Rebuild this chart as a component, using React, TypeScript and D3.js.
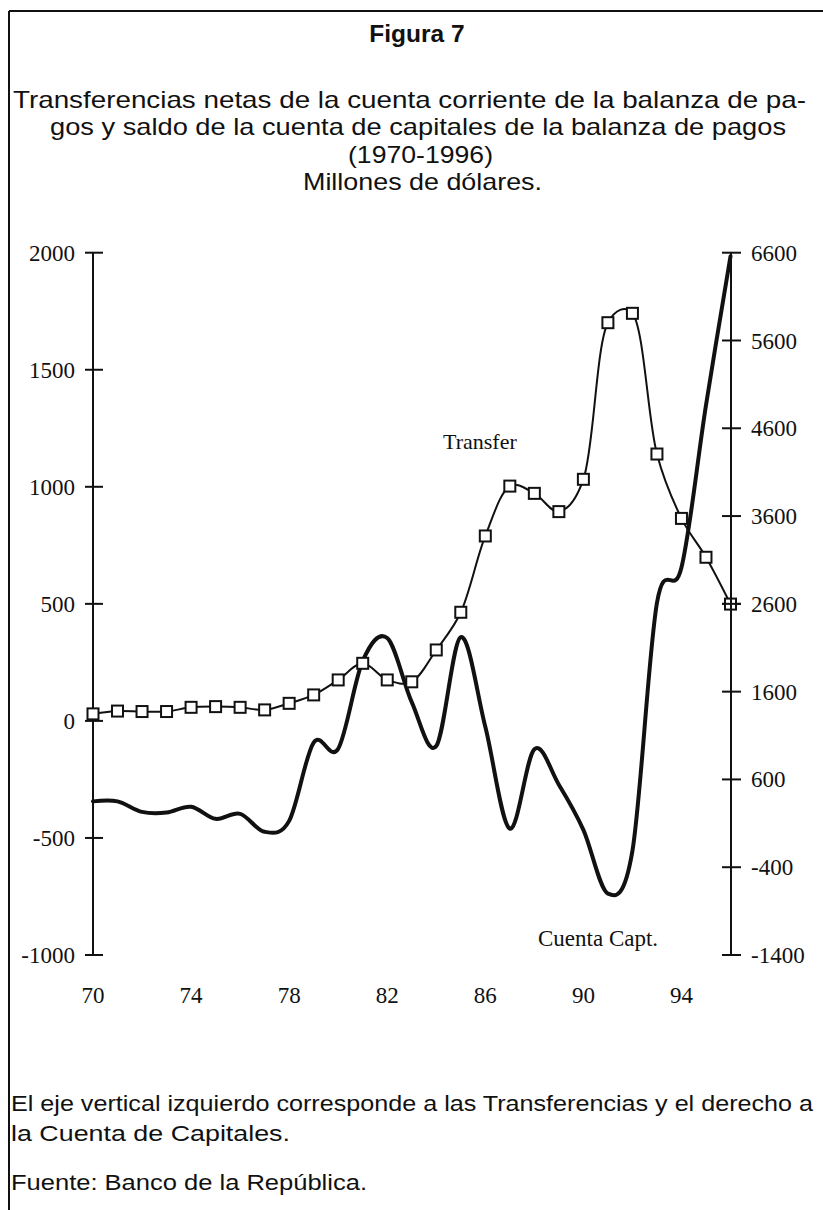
import React from "react";
import * as d3 from "d3";

const years = [1970, 1971, 1972, 1973, 1974, 1975, 1976, 1977, 1978, 1979, 1980, 1981, 1982, 1983, 1984, 1985, 1986, 1987, 1988, 1989, 1990, 1991, 1992, 1993, 1994, 1995, 1996];
const transfer = [30, 42, 40, 40, 58, 61, 58, 47, 75, 111, 175, 246, 175, 167, 303, 464, 790, 1003, 972, 894, 1032, 1701, 1741, 1140, 865, 699, 499];
const capital = [350, 350, 230, 222, 288, 151, 208, 3, 128, 1020, 950, 1950, 2210, 1480, 980, 2220, 1200, 40, 945, 540, 26, -700, -214, 2610, 3015, 4863, 6560];

const leftTicks = [2000, 1500, 1000, 500, 0, -500, -1000];
const rightTicks = [6600, 5600, 4600, 3600, 2600, 1600, 600, -400, -1400];
const xTicks = [1970, 1974, 1978, 1982, 1986, 1990, 1994];

const titleLines = [
  "Transferencias netas de la cuenta corriente de la balanza de pa-",
  "gos y saldo de la cuenta de capitales de la balanza de pagos",
  "(1970-1996)",
  "Millones de dólares.",
];

const W = 823;
const H = 1210;

export default function App() {
  const x = d3.scaleLinear().domain([1970, 1996]).range([93, 730.5]);
  const yL = d3.scaleLinear().domain([-1000, 2000]).range([955, 252.7]);
  const yR = d3.scaleLinear().domain([-1400, 6600]).range([955, 252.7]);

  const transferLine = d3
    .line<number>()
    .x((_, i) => x(years[i]))
    .y((d) => yL(d))
    .curve(d3.curveCatmullRom.alpha(0.3));
  const capitalLine = d3
    .line<number>()
    .x((_, i) => x(years[i]))
    .y((d) => yR(d))
    .curve(d3.curveCatmullRom.alpha(0));

  const sans = "'Liberation Sans', Arial, sans-serif";
  const serif = "'Liberation Serif', 'Times New Roman', serif";
  const ink = "#111";

  const titleX = [409.5, 418, 420.5, 422.5];
  const titleY = [108, 135, 163, 190];
  const titleW = [793, 736, 145, 239];

  const sq = 11;

  return (
    <svg
      width={W}
      height={H}
      viewBox={`0 0 ${W} ${H}`}
      style={{ position: "absolute", left: 0, top: 0, display: "block", background: "#fff" }}
    >
      <rect x={0} y={0} width={W} height={H} fill="#fff" />
      {/* frame */}
      <line x1={9} y1={11} x2={W} y2={11} stroke={ink} strokeWidth={2} />
      <line x1={9} y1={11} x2={9} y2={H} stroke={ink} strokeWidth={2} />

      {/* titles */}
      <text x={417} y={42} textAnchor="middle" fontFamily={sans} fontWeight="bold" fontSize={24.5} fill={ink}>
        Figura 7
      </text>
      {titleLines.map((t, i) => (
        <text
          key={i}
          x={titleX[i]}
          y={titleY[i]}
          textAnchor="middle"
          fontFamily={sans}
          fontSize={24}
          fill={ink}
          textLength={titleW[i]}
          lengthAdjust="spacingAndGlyphs"
        >
          {t}
        </text>
      ))}

      {/* left axis */}
      <line x1={93} y1={yL(2000)} x2={93} y2={yL(-1000)} stroke={ink} strokeWidth={2} />
      {leftTicks.map((t) => (
        <g key={t}>
          <line x1={85} x2={103} y1={yL(t)} y2={yL(t)} stroke={ink} strokeWidth={2} />
          <text x={75} y={yL(t)} dy="0.35em" textAnchor="end" fontFamily={serif} fontSize={23} fill={ink}>
            {t}
          </text>
        </g>
      ))}

      {/* right axis */}
      <line x1={731} y1={yR(6600)} x2={731} y2={yR(-1400)} stroke={ink} strokeWidth={2} />
      {rightTicks.map((t) => (
        <g key={t}>
          <line x1={722} x2={741} y1={yR(t)} y2={yR(t)} stroke={ink} strokeWidth={2} />
          <text x={751} y={yR(t)} dy="0.35em" textAnchor="start" fontFamily={serif} fontSize={23} fill={ink}>
            {t}
          </text>
        </g>
      ))}

      {/* x labels */}
      {xTicks.map((t) => (
        <text key={t} x={x(t)} y={1003} textAnchor="middle" fontFamily={serif} fontSize={23} fill={ink}>
          {String(t).slice(2)}
        </text>
      ))}

      {/* series */}
      <path d={capitalLine(capital) || ""} fill="none" stroke={ink} strokeWidth={4} strokeLinejoin="round" strokeLinecap="round" />
      <path d={transferLine(transfer) || ""} fill="none" stroke={ink} strokeWidth={2} />
      {transfer.map((v, i) => (
        <rect
          key={i}
          x={x(years[i]) - sq / 2}
          y={yL(v) - sq / 2}
          width={sq}
          height={sq}
          fill="#fff"
          stroke={ink}
          strokeWidth={2}
        />
      ))}
      {/* axis crossing over last marker */}
      <line x1={731} y1={yL(transfer[26]) - 8} x2={731} y2={yL(transfer[26]) + 8} stroke={ink} strokeWidth={2} />
      <line x1={722} x2={741} y1={yR(2600)} y2={yR(2600)} stroke={ink} strokeWidth={2} />

      {/* series labels */}
      <text x={443} y={449} fontFamily={serif} fontSize={22} fill={ink}>
        Transfer
      </text>
      <text x={538} y={946} fontFamily={serif} fontSize={23} fill={ink}>
        Cuenta Capt.
      </text>

      {/* notes */}
      <text x={11} y={1111} fontFamily={sans} fontSize={22} fill={ink} textLength={802} lengthAdjust="spacingAndGlyphs">
        El eje vertical izquierdo corresponde a las Transferencias y el derecho a
      </text>
      <text x={11} y={1141} fontFamily={sans} fontSize={22} fill={ink} textLength={279} lengthAdjust="spacingAndGlyphs">
        la Cuenta de Capitales.
      </text>
      <text x={11} y={1190} fontFamily={sans} fontSize={22} fill={ink} textLength={356} lengthAdjust="spacingAndGlyphs">
        Fuente: Banco de la República.
      </text>
    </svg>
  );
}
